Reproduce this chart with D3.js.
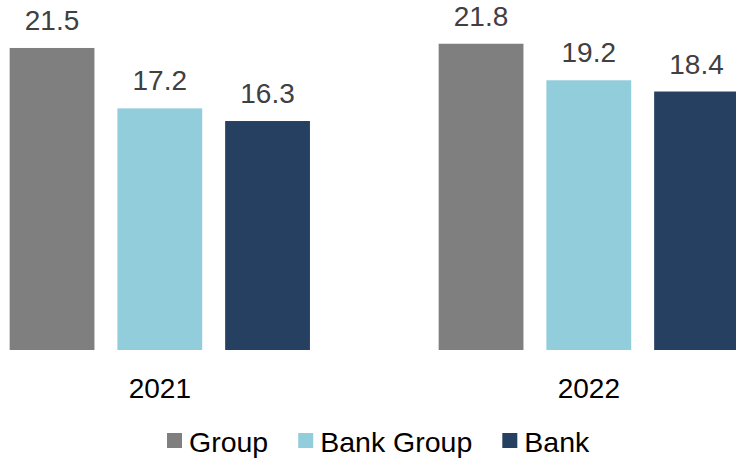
<!DOCTYPE html>
<html>
<head>
<meta charset="utf-8">
<script src="https://cdn.jsdelivr.net/npm/d3@7"></script>
<style>
  html, body { margin: 0; padding: 0; background: #fff; }
  svg { display: block; font-family: "Liberation Sans", Arial, sans-serif; }
</style>
</head>
<body>
<svg id="chart" width="736" height="458"></svg>
<script>
// Categories (years) and series
const years = ["2021", "2022"];
const seriesNames = ["Group", "Bank Group", "Bank"];
const groupValues = [21.5, 21.8];
const bankGroupValues = [17.2, 19.2];
const bankValues = [16.3, 18.4];
const seriesColors = ["#7f7f7f", "#92cddc", "#254061"];

const seriesValues = [groupValues, bankGroupValues, bankValues];
const rows = years.map((y, i) => ({
  year: y,
  values: seriesNames.map((s, k) => ({ series: s, value: seriesValues[k][i], color: seriesColors[k] }))
}));

const svg = d3.select("#chart");

// Outer band per year, inner band per series
const x0 = d3.scaleBand().domain(years).range([-54.7, 803.3]).paddingInner(0.3).paddingOuter(0.15);
const x1 = d3.scaleBand().domain(seriesNames).range([0, x0.bandwidth()]).paddingInner(0.213).paddingOuter(0);
const y = d3.scaleLinear().domain([0, 25]).range([350, -1.2]);

const groups = svg.append("g").selectAll("g")
  .data(rows).join("g")
  .attr("transform", d => `translate(${x0(d.year)},0)`);

groups.selectAll("rect")
  .data(d => d.values).join("rect")
  .attr("x", d => x1(d.series))
  .attr("y", d => y(d.value))
  .attr("width", x1.bandwidth())
  .attr("height", d => y(0) - y(d.value))
  .attr("fill", d => d.color);

groups.selectAll("text.val")
  .data(d => d.values).join("text")
  .attr("class", "val")
  .attr("x", d => x1(d.series) + x1.bandwidth() / 2)
  .attr("y", d => y(d.value) - 18)
  .attr("text-anchor", "middle")
  .attr("font-size", 28)
  .attr("fill", "#404040")
  .text(d => d.value.toFixed(1));

// Category axis labels (no axis line)
const xAxis = d3.axisBottom(x0).tickSize(0).tickPadding(0);
const axisG = svg.append("g").attr("transform", "translate(0,350)").call(xAxis);
axisG.select(".domain").remove();
axisG.selectAll("text")
  .attr("font-size", 28)
  .attr("font-family", "Liberation Sans, Arial, sans-serif")
  .attr("fill", "#000")
  .attr("dy", null)
  .attr("y", 48);

// Legend
const legend = svg.append("g");
const items = legend.selectAll("g").data(seriesNames).join("g");
items.append("rect")
  .attr("width", 15).attr("height", 15)
  .attr("y", 433)
  .attr("fill", (d, i) => seriesColors[i]);
items.append("text")
  .attr("x", 22).attr("y", 451.5)
  .attr("font-size", 28.5)
  .attr("fill", "#000")
  .text(d => d);
let cx = 0;
items.each(function () {
  const g = d3.select(this);
  g.attr("transform", `translate(${cx},0)`);
  cx += 22 + g.select("text").node().getComputedTextLength() + 30;
});
const totalW = cx - 30;
legend.attr("transform", `translate(${167},0)`);
</script>
</body>
</html>
